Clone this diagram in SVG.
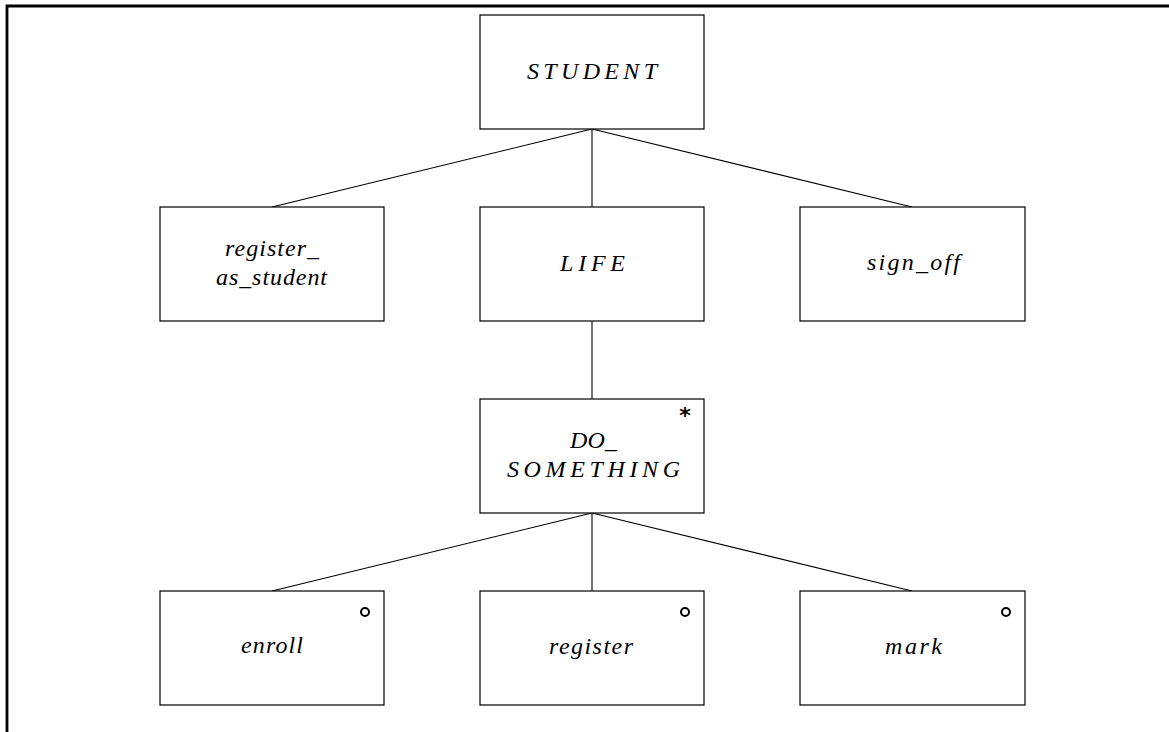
<svg xmlns="http://www.w3.org/2000/svg" width="1169" height="732" viewBox="0 0 1169 732">
  <style>
    .box { fill: #ffffff; stroke: #000000; stroke-width: 1.2; }
    .edge { fill: none; stroke: #000000; stroke-width: 1.1; }
    .lbl { font-family: "Liberation Serif", "DejaVu Serif", serif; font-style: italic; font-size: 24px; fill: #000000; }
    .mark { fill: none; stroke: #000000; stroke-width: 2; }
    .star { font-family: "DejaVu Sans", sans-serif; font-size: 22px; font-weight: bold; fill: #000000; }
  </style>
  <rect x="0" y="0" width="1169" height="732" fill="#ffffff"/>
  <!-- page frame -->
  <path d="M7,732 V6 H1169" fill="none" stroke="#000000" stroke-width="2.8"/>

  <g id="connectors">
    <line class="edge" x1="592" y1="129" x2="272" y2="207"/>
    <line class="edge" x1="592" y1="129" x2="592" y2="207"/>
    <line class="edge" x1="592" y1="129" x2="912" y2="207"/>
    <line class="edge" x1="592" y1="321" x2="592" y2="399"/>
    <line class="edge" x1="592" y1="513" x2="272" y2="591"/>
    <line class="edge" x1="592" y1="513" x2="592" y2="591"/>
    <line class="edge" x1="592" y1="513" x2="912" y2="591"/>
  </g>

  <g id="student">
    <rect class="box" x="480" y="15" width="224" height="114"/>
    <text class="lbl" x="527" y="79" textLength="130" lengthAdjust="spacing">STUDENT</text>
  </g>

  <g id="register_as_student">
    <rect class="box" x="160" y="207" width="224" height="114"/>
    <text class="lbl" x="225" y="256" textLength="94" lengthAdjust="spacing">register_</text>
    <text class="lbl" x="216" y="285" textLength="111" lengthAdjust="spacing">as_student</text>
  </g>

  <g id="life">
    <rect class="box" x="480" y="207" width="224" height="114"/>
    <text class="lbl" x="560" y="271" textLength="65" lengthAdjust="spacing">LIFE</text>
  </g>

  <g id="sign_off">
    <rect class="box" x="800" y="207" width="225" height="114"/>
    <text class="lbl" x="867" y="270" textLength="93" lengthAdjust="spacing">sign_off</text>
  </g>

  <g id="do_something">
    <rect class="box" x="480" y="399" width="224" height="114"/>
    <text class="lbl" x="570" y="448" textLength="47" lengthAdjust="spacing">DO_</text>
    <text class="lbl" x="507" y="477" textLength="173" lengthAdjust="spacing">SOMETHING</text>
    <text class="star" x="685" y="423" text-anchor="middle">*</text>
  </g>

  <g id="enroll">
    <rect class="box" x="160" y="591" width="224" height="114"/>
    <text class="lbl" x="241" y="653" textLength="62" lengthAdjust="spacing">enroll</text>
    <circle class="mark" cx="365" cy="612" r="4"/>
  </g>

  <g id="register">
    <rect class="box" x="480" y="591" width="224" height="114"/>
    <text class="lbl" x="549" y="654" textLength="84" lengthAdjust="spacing">register</text>
    <circle class="mark" cx="685" cy="612" r="4"/>
  </g>

  <g id="mark">
    <rect class="box" x="800" y="591" width="225" height="114"/>
    <text class="lbl" x="885" y="654" textLength="57" lengthAdjust="spacing">mark</text>
    <circle class="mark" cx="1006" cy="612" r="4"/>
  </g>
</svg>
